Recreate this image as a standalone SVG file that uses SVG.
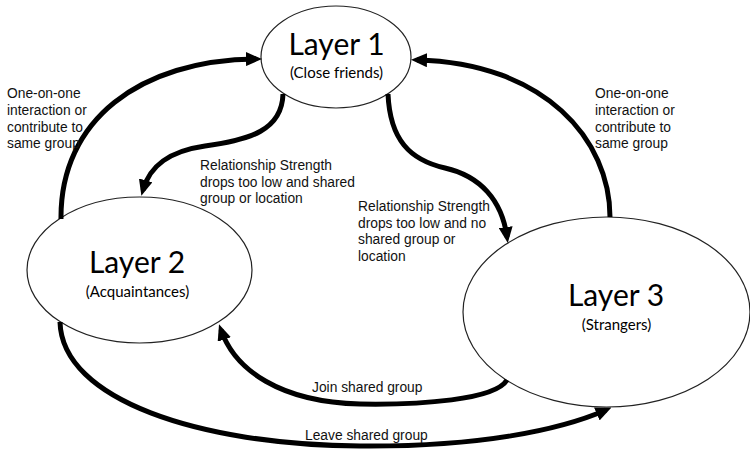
<svg xmlns="http://www.w3.org/2000/svg" width="750" height="449" viewBox="0 0 750 449">
<defs>
<style>
.node ellipse{fill:#fff;stroke:#222;stroke-width:1.2}
.title{font-family:Lato,"Open Sans",sans-serif;font-size:30px;fill:#000;text-anchor:middle}
.sub{font-family:Lato,"Open Sans",sans-serif;font-size:15px;fill:#000;text-anchor:middle}
.conn path{fill:none;stroke:#000;stroke-width:5;marker-end:url(#arr)}
.lbl{font-family:"Liberation Sans",Arial,sans-serif;font-size:13.8px;fill:#111}
</style>
<marker id="arr" markerUnits="userSpaceOnUse" markerWidth="16" markerHeight="14" refX="10" refY="7" orient="auto">
<path d="M0,0 L16,7 L0,14 z" fill="#000"/>
</marker>
</defs>
<rect width="750" height="449" fill="#fff"/>
<g id="layer1" class="node">
<ellipse cx="336" cy="57" rx="75" ry="51"/>
<text class="title" x="336.5" y="55">Layer 1</text>
<text class="sub" x="336.5" y="78">(Close friends)</text>
</g>
<g id="layer2" class="node">
<ellipse cx="139.5" cy="270" rx="112.5" ry="73"/>
<text class="title" x="137" y="273">Layer 2</text>
<text class="sub" x="137.5" y="297">(Acquaintances)</text>
</g>
<g id="layer3" class="node">
<ellipse cx="606.5" cy="312" rx="143.5" ry="95"/>
<text class="title" x="616" y="306">Layer 3</text>
<text class="sub" x="616.5" y="330">(Strangers)</text>
</g>
<g id="connectors" class="conn">
<path d="M 61 219 C 60 120, 140 60, 256 59"/>
<path d="M 610 217 C 610 140, 545 63, 417 60"/>
<path d="M 283 94 C 282 130, 250 140, 205 146 C 170 151, 150 165, 143 190"/>
<path d="M 388 94 C 390 140, 410 160, 445 168 C 480 176, 502 200, 507 237"/>
<path d="M 507 380 C 495 400, 420 405, 360 404 C 280 402, 235 370, 221 330"/>
<path d="M 60 322 C 62 400, 200 445, 360 446 C 480 447, 560 430, 606 410"/>
</g>
<g id="labels" class="lbl">
<text x="7" y="98">One-on-one</text>
<text x="7" y="115">interaction or</text>
<text x="7" y="132">contribute to</text>
<text x="7" y="148">same group</text>
<text x="595" y="98">One-on-one</text>
<text x="595" y="115">interaction or</text>
<text x="595" y="132">contribute to</text>
<text x="595" y="148">same group</text>
<text x="200" y="170">Relationship Strength</text>
<text x="200" y="186.5">drops too low and shared</text>
<text x="200" y="203">group or location</text>
<text x="358" y="211">Relationship Strength</text>
<text x="358" y="227.5">drops too low and no</text>
<text x="358" y="244">shared group or</text>
<text x="358" y="260.5">location</text>
<text x="312" y="392">Join shared group</text>
<text x="305" y="440">Leave shared group</text>
</g>
</svg>
